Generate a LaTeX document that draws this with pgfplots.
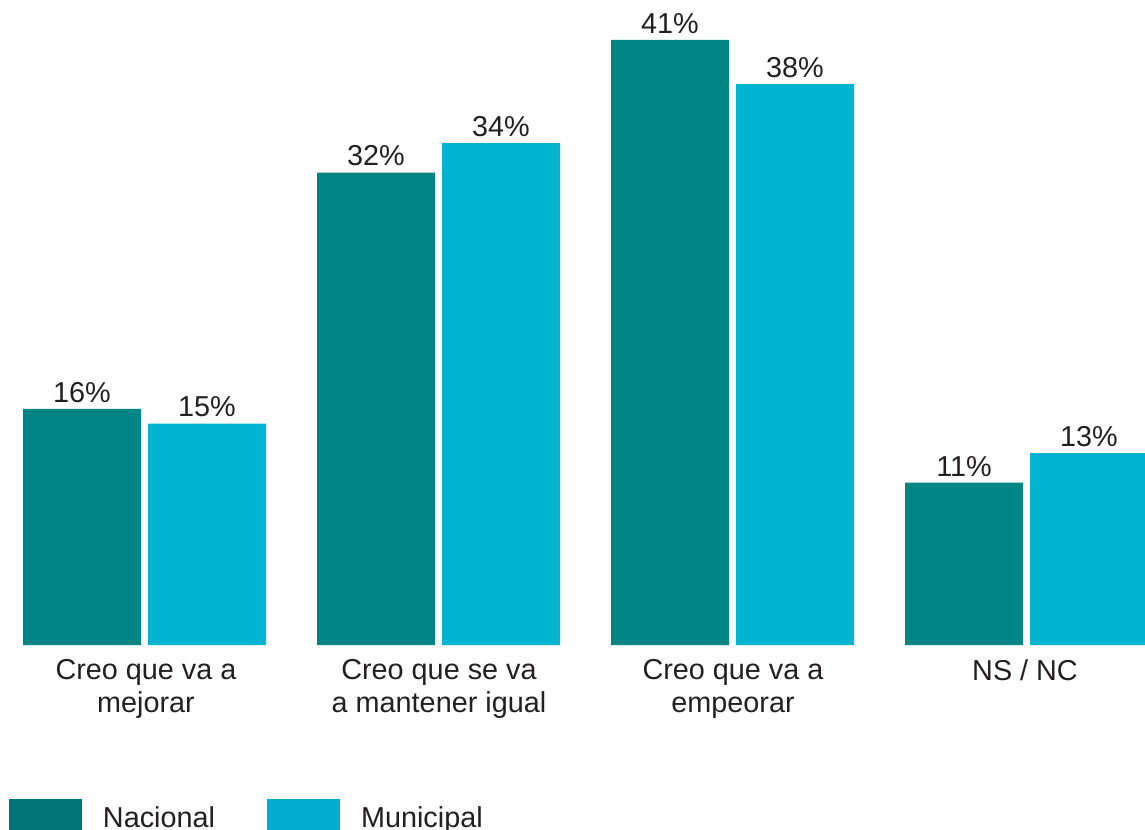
\documentclass[border=0pt]{standalone}
\usepackage{fontspec}
\setmainfont{Liberation Sans}
\usepackage{pgfplots}
\pgfplotsset{compat=1.18}
\definecolor{nac}{HTML}{008585}
\definecolor{mun}{HTML}{00B4D2}
\definecolor{nacL}{HTML}{007575}
\definecolor{munL}{HTML}{00ACD0}
\definecolor{txt}{HTML}{231F20}
\newcommand{\f}{\fontsize{14.4bp}{16.5bp}\selectfont}
\begin{document}
\begin{tikzpicture}
\begin{axis}[
  scale only axis,
  width=572.5bp, height=322.5bp,
  xmin=0, xmax=1145, ymin=0, ymax=43.699,
  axis line style={draw=none},
  major tick length=0pt,
  ytick=\empty,
  xtick={146,439,733,1025},
  xticklabels={Creo que va a\\mejorar, Creo que se va\\a mantener igual, Creo que va a\\empeorar, NS / NC},
  xticklabel style={align=center, font=\f, text=txt, inner sep=0pt, yshift=-7bp},
  ybar, bar width=59bp,
  nodes near coords={\pgfmathprintnumber[assume math mode=true]{\pgfplotspointmeta}\%},
  every node near coord/.append style={font=\f, text=txt, inner sep=0pt, anchor=south, yshift=3bp},
  legend columns=2,
  legend style={draw=none, fill=none, inner sep=0pt, outer sep=0pt,
    at={(axis description cs:0.00786,-0.23876)}, anchor=north west,
    font=\f, text=txt,
    nodes={inner sep=0pt},
    /tikz/every odd column/.append style={column sep=10.5bp},
    /tikz/every even column/.append style={column sep=26bp}},
]
\addplot[draw=none, fill=nac, bar shift=-31.25bp, area legend,
  legend image code/.code={\fill[nacL] (0bp,-5.5bp) rectangle (36.5bp,10bp);}]
  coordinates {(144.5,16) (438.5,32) (732.5,41) (1026.5,11)};
\addplot[draw=none, fill=mun, bar shift=31.25bp, area legend,
  legend image code/.code={\fill[munL] (0bp,-5.5bp) rectangle (36.5bp,10bp);}]
  coordinates {(144.5,15) (438.5,34) (732.5,38) (1026.5,13)};
\legend{Nacional, Municipal}
\end{axis}
\pgfresetboundingbox
\path[use as bounding box] (0,-92.5bp) rectangle (572.5bp,322.5bp);
\end{tikzpicture}
\end{document}
